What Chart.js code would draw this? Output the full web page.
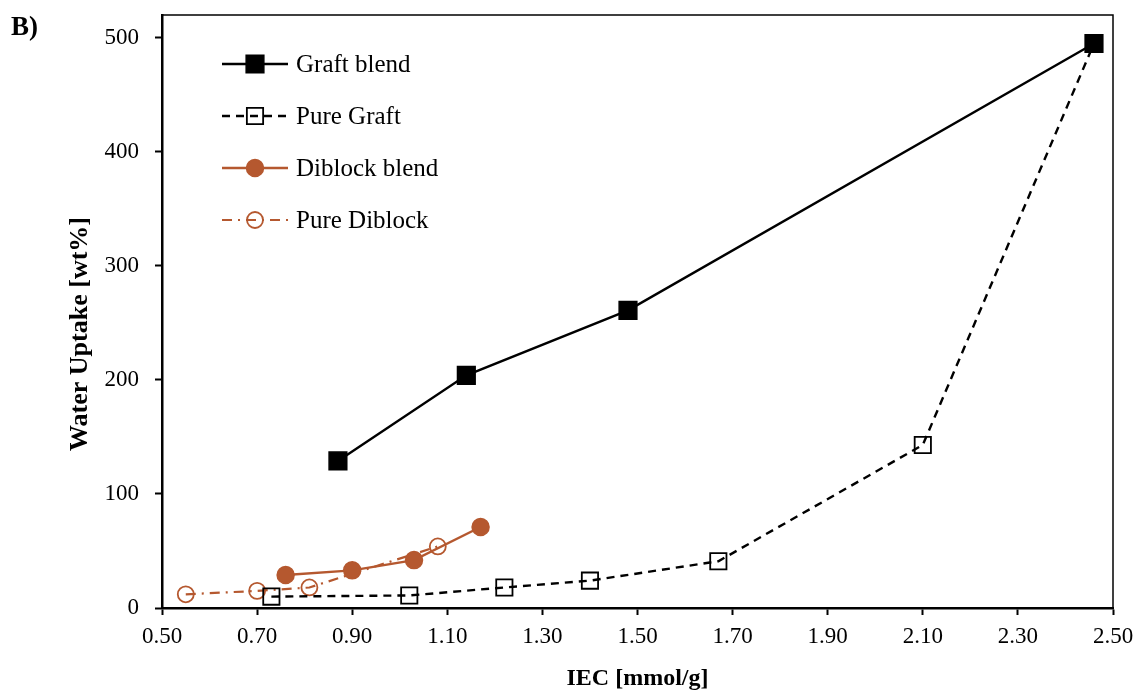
<!DOCTYPE html>
<html>
<head>
<meta charset="utf-8">
<script src="https://cdn.jsdelivr.net/npm/chart.js@4.4.0/dist/chart.umd.min.js"></script>
<style>
  html, body { margin: 0; padding: 0; background: #fff; }
  #wrap { position: relative; width: 1140px; height: 693px; }
</style>
</head>
<body>
<div id="wrap"><canvas id="uptakeChart" width="1140" height="693"></canvas></div>
<script>
// IEC (mmol/g) vs water uptake (wt%)
var graftBlendIEC = [0.87, 1.14, 1.48, 2.46];
var graftBlendWU = [129, 204, 261, 495];

var pureGraftIEC = [0.73, 1.02, 1.22, 1.40, 1.67, 2.10, 2.46];
var pureGraftWU = [10, 11, 18, 24, 41, 143, 495];

var diblockBlendIEC = [0.76, 0.90, 1.03, 1.17];
var diblockBlendWU = [29, 33, 42, 71];

var pureDiblockIEC = [0.55, 0.70, 0.81, 1.08];
var pureDiblockWU = [12, 15, 18, 54];

var xTicks = [0.5, 0.7, 0.9, 1.1, 1.3, 1.5, 1.7, 1.9, 2.1, 2.3, 2.5];
var yTicks = [0, 100, 200, 300, 400, 500];

var brown = "#b5582f";
var serif = "'Liberation Serif', 'Times New Roman', serif";

function pts(xs, ys) {
  return xs.map(function (x, i) {
    return { x: x, y: ys[i] };
  });
}

// legend with line + marker + line, like the series themselves
var lineLegend = {
  id: "lineLegend",
  afterDraw: function (chart) {
    var ctx = chart.ctx;
    var x0 = 222, x1 = 288, top = 64, gap = 52;
    chart.data.datasets.forEach(function (ds, i) {
      var y = top + i * gap;
      ctx.save();
      ctx.strokeStyle = ds.borderColor;
      ctx.lineWidth = ds.borderWidth;
      ctx.setLineDash(ds.borderDash || []);
      ctx.beginPath();
      ctx.moveTo(x0, y);
      ctx.lineTo(x1, y);
      ctx.stroke();
      ctx.setLineDash([]);
      ctx.fillStyle = ds.pointBackgroundColor;
      ctx.strokeStyle = ds.pointBorderColor;
      ctx.lineWidth = ds.pointBorderWidth;
      Chart.helpers.drawPoint(ctx, {
        pointStyle: ds.pointStyle,
        rotation: 0,
        radius: ds.pointRadius,
        borderWidth: ds.pointBorderWidth
      }, (x0 + x1) / 2, y);
      ctx.fillStyle = "#000";
      ctx.font = "25px " + serif;
      ctx.textBaseline = "middle";
      ctx.textAlign = "left";
      ctx.fillText(ds.label, 296, y + 1);
      ctx.restore();
    });

    // panel letter
    ctx.save();
    ctx.fillStyle = "#000";
    ctx.font = "bold 27px " + serif;
    ctx.textBaseline = "middle";
    ctx.fillText("B)", 11, 28);

    // y axis title
    ctx.translate(80, 334);
    ctx.rotate(-Math.PI / 2);
    ctx.font = "bold 26px " + serif;
    ctx.textAlign = "center";
    ctx.fillText("Water Uptake [wt%]", 0, 0);
    ctx.restore();
  }
};

// box around the plot area
var plotBox = {
  id: "plotBox",
  beforeDatasetsDraw: function (chart) {
    var a = chart.chartArea, ctx = chart.ctx;
    ctx.save();
    ctx.strokeStyle = "#000";
    ctx.lineWidth = 1.5;
    ctx.strokeRect(a.left, a.top, a.right - a.left, a.bottom - a.top);
    ctx.restore();
  }
};

new Chart(document.getElementById("uptakeChart"), {
  type: "scatter",
  data: {
    datasets: [
      {
        label: "Graft blend",
        data: pts(graftBlendIEC, graftBlendWU),
        showLine: true,
        borderColor: "#000",
        borderWidth: 2.4,
        pointStyle: "rect",
        pointRadius: 12.5,
        pointBackgroundColor: "#000",
        pointBorderColor: "#000",
        pointBorderWidth: 1.5
      },
      {
        label: "Pure Graft",
        data: pts(pureGraftIEC, pureGraftWU),
        showLine: true,
        borderColor: "#000",
        borderWidth: 2.4,
        borderDash: [8, 6],
        pointStyle: "rect",
        pointRadius: 11.5,
        pointBackgroundColor: "rgba(0,0,0,0)",
        pointBorderColor: "#000",
        pointBorderWidth: 1.8
      },
      {
        label: "Diblock blend",
        data: pts(diblockBlendIEC, diblockBlendWU),
        showLine: true,
        borderColor: brown,
        borderWidth: 2.4,
        pointStyle: "circle",
        pointRadius: 8.5,
        pointBackgroundColor: brown,
        pointBorderColor: brown,
        pointBorderWidth: 1.5
      },
      {
        label: "Pure Diblock",
        data: pts(pureDiblockIEC, pureDiblockWU),
        showLine: true,
        borderColor: brown,
        borderWidth: 2.2,
        borderDash: [10, 6, 2, 6],
        pointStyle: "circle",
        pointRadius: 8,
        pointBackgroundColor: "rgba(0,0,0,0)",
        pointBorderColor: brown,
        pointBorderWidth: 1.8
      }
    ]
  },
  options: {
    responsive: false,
    animation: false,
    layout: { padding: { left: 0, top: 15, right: 27, bottom: 0 } },
    plugins: {
      legend: { display: false },
      tooltip: { enabled: false }
    },
    scales: {
      x: {
        type: "linear",
        min: 0.5,
        max: 2.5,
        afterBuildTicks: function (s) {
          s.ticks = xTicks.map(function (v) { return { value: v }; });
        },
        afterFit: function (s) {
          s.height = 85;
          s.paddingLeft = 0;
          s.paddingRight = 0;
        },
        border: { display: true, color: "#000", width: 2.5 },
        grid: { drawOnChartArea: false, drawTicks: true, tickLength: 7, tickColor: "#000", tickWidth: 2 },
        ticks: {
          color: "#000",
          font: { family: serif, size: 23 },
          padding: 8,
          maxRotation: 0,
          callback: function (v) { return Number(v).toFixed(2); }
        },
        title: {
          display: true,
          text: "IEC [mmol/g]",
          color: "#000",
          font: { family: serif, size: 24, weight: "bold" },
          padding: { top: 2, bottom: 0 }
        }
      },
      y: {
        type: "linear",
        min: 0,
        max: 520,
        afterBuildTicks: function (s) {
          s.ticks = yTicks.map(function (v) { return { value: v }; });
        },
        afterFit: function (s) {
          s.width = 162;
          s.paddingTop = 0;
          s.paddingBottom = 0;
        },
        border: { display: true, color: "#000", width: 2.5 },
        grid: { drawOnChartArea: false, drawTicks: true, tickLength: 7, tickColor: "#000", tickWidth: 2 },
        ticks: {
          color: "#000",
          font: { family: serif, size: 23 },
          padding: 16
        }
      }
    }
  },
  plugins: [plotBox, lineLegend]
});
</script>
</body>
</html>
